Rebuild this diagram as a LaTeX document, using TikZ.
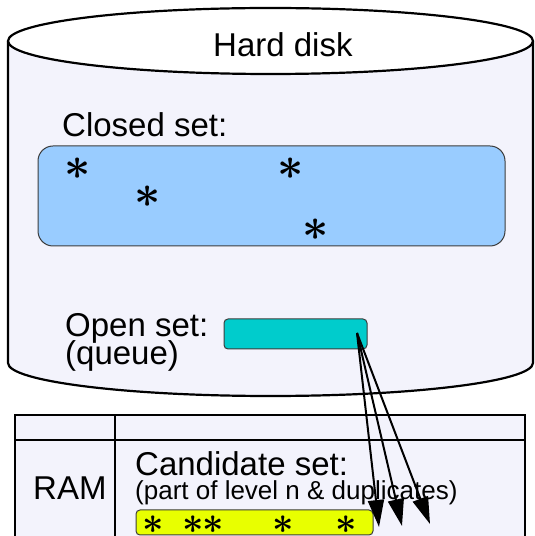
\documentclass[tikz,border=0pt]{standalone}
\usepackage{fontspec}
\setmainfont{Liberation Sans}
\usetikzlibrary{arrows.meta}

\definecolor{diskbg}{RGB}{243,243,252}
\definecolor{closedfill}{RGB}{153,204,255}
\definecolor{openfill}{RGB}{0,204,204}
\definecolor{candfill}{RGB}{232,255,0}
\definecolor{boxline}{RGB}{60,60,60}

% a star glyph with no height, set on its baseline
\newcommand{\setstar}{\smash{\boldmath$\ast$}}

\tikzset{
  thickline/.style={line width=2.2pt, black},
  setbox/.style={draw=boxline, line width=1pt},
  lbl/.style={inner sep=0pt, anchor=base west, font=\fontsize{33}{38}\selectfont},
  smalllbl/.style={inner sep=0pt, anchor=base west, font=\fontsize{26}{30}\selectfont},
  star/.style={inner sep=0pt, anchor=base, scale=2.2, font=\fontsize{20}{24}\selectfont},
  smallstar/.style={inner sep=0pt, anchor=base, scale=1.8, font=\fontsize{20}{24}\selectfont},
  flow/.style={line width=2pt, -{Triangle[length=27pt,width=16pt]}}
}

\begin{document}
\begin{tikzpicture}[x=1pt,y=1pt]
\useasboundingbox (0,0) rectangle (535,536);

% hard disk cylinder
\fill[diskbg] (8,495) -- (8,173)
  arc[start angle=180, end angle=360, x radius=262.5, y radius=33]
  -- (533,495) -- cycle;
\draw[thickline] (8,495) -- (8,173)
  arc[start angle=180, end angle=360, x radius=262.5, y radius=33]
  -- (533,495);
\draw[thickline, fill=white] (270.5,495) ellipse [x radius=262.5, y radius=33];
\node[lbl] (hd) at (213,479) {Hard disk};

% closed set (star centres sit about 11pt above their baselines)
\node[lbl] (closedlbl) at (62,399) {Closed set:};
\draw[setbox, fill=closedfill, rounded corners=15pt] (38,390) rectangle (505,290);
\node[star] (c1) at (78,356) {\setstar};
\node[star] (c2) at (291,356) {\setstar};
\node[star] (c3) at (148,328) {\setstar};
\node[star] (c4) at (316,295) {\setstar};

% open set
\node[lbl] (openlbl) at (65,199) {Open set:};
\node[lbl] (queuelbl) at (65,171) {(queue)};
\draw[setbox, fill=openfill, rounded corners=4pt] (224,217) rectangle (367,187);
\coordinate (src) at (357,203);

% RAM table
\fill[diskbg] (15,121) rectangle (525,-20);
\draw[thickline] (15,-20) -- (15,121) -- (525,121) -- (525,-20);
\draw[thickline] (15,96) -- (525,96);
\draw[thickline] (115,121) -- (115,-20);
\node[lbl] (ram) at (33,36) {RAM};
\node[lbl] (candlbl) at (135,60) {Candidate set:};
\node[smalllbl] (candsub) at (135,36) {(part of level n \& duplicates)};

% candidate set (star centres sit about 9pt above their baselines)
\draw[setbox, fill=candfill, rounded corners=4pt] (136,26) rectangle (373,1);
\node[smallstar] (s1) at (153,3) {\setstar};
\node[smallstar] (s2) at (193,3) {\setstar};
\node[smallstar] (s3) at (213,3) {\setstar};
\node[smallstar] (s4) at (283,3) {\setstar};
\node[smallstar] (s5) at (346,3) {\setstar};

% expansion arrows
\coordinate (t1) at (379,9);
\coordinate (t2) at (402,10);
\coordinate (t3) at (430,12);
\draw[flow] (src) -- (t1);
\draw[flow] (src) -- (t2);
\draw[flow] (src) -- (t3);
\end{tikzpicture}
\end{document}
